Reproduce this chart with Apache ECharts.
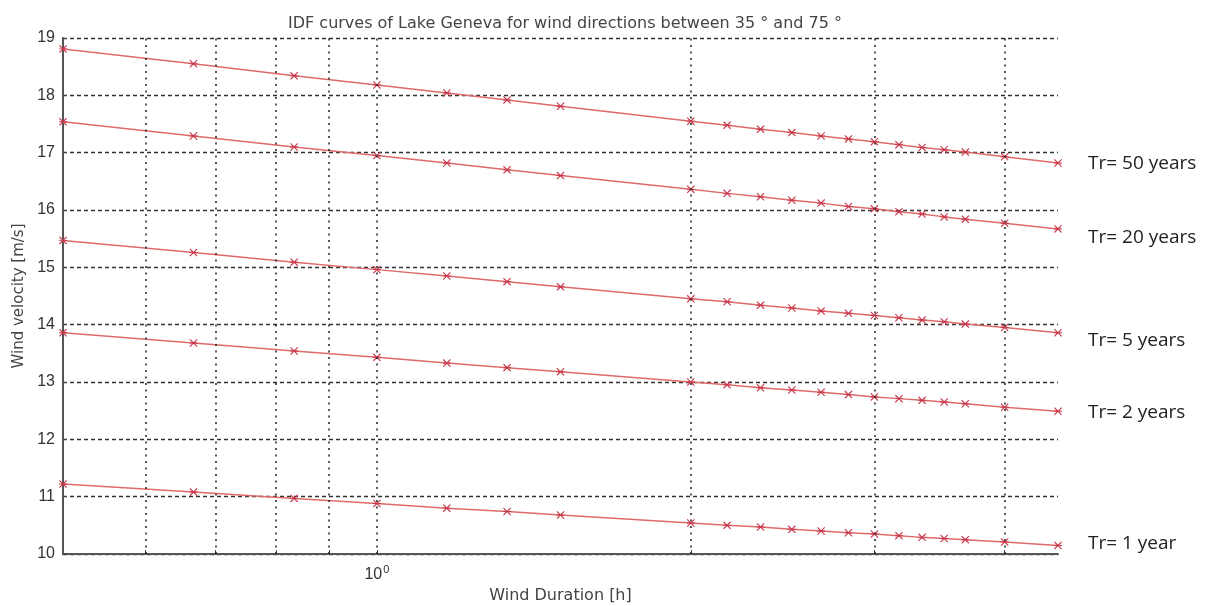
<!DOCTYPE html>
<html>
<head>
<meta charset="utf-8">
<script src="https://cdn.jsdelivr.net/npm/echarts@6/dist/echarts.min.js"></script>
<style>
  html, body { margin: 0; padding: 0; background: #fff; }
  #chart { width: 1208px; height: 606px; }
</style>
</head>
<body>
<div id="chart"></div>
<script>
// wind duration [h]
const durations = [0.5, 0.667, 0.833, 1, 1.167, 1.333, 1.5, 2, 2.167, 2.333, 2.5, 2.667, 2.833, 3, 3.167, 3.333, 3.5, 3.667, 4, 4.5]

// wind velocity [m/s] per return period
const tr50 = [18.81, 18.55, 18.34, 18.18, 18.04, 17.92, 17.81, 17.55, 17.48, 17.41, 17.35, 17.29, 17.24, 17.19, 17.14, 17.09, 17.05, 17.01, 16.93, 16.82]
const tr20 = [17.54, 17.29, 17.10, 16.95, 16.82, 16.70, 16.60, 16.36, 16.29, 16.23, 16.17, 16.12, 16.06, 16.02, 15.97, 15.93, 15.88, 15.84, 15.77, 15.67]
const tr5 = [15.47, 15.26, 15.09, 14.96, 14.85, 14.75, 14.66, 14.45, 14.40, 14.34, 14.29, 14.24, 14.20, 14.16, 14.12, 14.08, 14.05, 14.01, 13.95, 13.86]
const tr2 = [13.86, 13.68, 13.54, 13.43, 13.33, 13.25, 13.18, 13.00, 12.95, 12.90, 12.86, 12.82, 12.78, 12.74, 12.71, 12.68, 12.65, 12.62, 12.56, 12.49]
const tr1 = [11.22, 11.08, 10.97, 10.88, 10.80, 10.74, 10.68, 10.54, 10.50, 10.47, 10.43, 10.40, 10.37, 10.35, 10.32, 10.29, 10.27, 10.25, 10.21, 10.15]

const seriesNames = ['Tr= 50 years', 'Tr= 20 years', 'Tr= 5 years', 'Tr= 2 years', 'Tr= 1 year']
const seriesValues = [tr50, tr20, tr5, tr2, tr1]
const labelShift = [1, 9, 8, 1, -2]

// log grid positions on the duration axis
const xGrid = [0.6, 0.7, 0.8, 0.9, 1, 2, 3, 4]
const xLabels = [1]

const chart = echarts.init(document.getElementById('chart'))

const crossMark = 'path://M0,1 L1,0 L5,4 L9,0 L10,1 L6,5 L10,9 L9,10 L5,6 L1,10 L0,9 L4,5 Z M0,4.4 L10,4.4 L10,5.6 L0,5.6 Z'

const series = seriesNames.map((name, i) => ({
  name: name,
  type: 'line',
  data: durations.map((d, j) => [d, seriesValues[i][j]]),
  symbol: crossMark,
  symbolSize: 8,
  showAllSymbol: true,
  lineStyle: { color: '#e06a6a', width: 1.5 },
  itemStyle: { color: '#c8384a' },
  endLabel: {
    show: true,
    formatter: name,
    distance: 30,
    offset: [0, labelShift[i]],
    color: '#222',
    fontFamily: 'Open Sans',
    fontSize: 19
  },
  animation: false,
  z: 3
}))

// vertical dotted grid drawn through the log axis
series.push({
  type: 'line',
  data: [],
  silent: true,
  markLine: {
    silent: true,
    symbol: ['none', 'none'],
    label: { show: false },
    lineStyle: { color: '#222', type: [2, 4.5], width: 1.5 },
    data: xGrid.map(v => ({ xAxis: v }))
  },
  z: 1
})

const option = {
  backgroundColor: '#fff',
  animation: false,
  title: {
    text: 'IDF curves of Lake Geneva for wind directions between 35 ° and 75 °',
    left: 560,
    textAlign: 'center',
    top: 11,
    textStyle: {
      fontFamily: 'DejaVu Sans',
      fontWeight: 'normal',
      fontSize: 16,
      color: '#444'
    }
  },
  grid: {
    left: 63,
    right: 150,
    top: 38,
    bottom: 52,
    outerBoundsMode: 'none'
  },
  xAxis: {
    type: 'log',
    logBase: 10,
    min: 0.5,
    max: 4.5,
    name: 'Wind Duration [h]',
    nameLocation: 'middle',
    nameGap: 33,
    nameTextStyle: { fontFamily: 'DejaVu Sans', fontSize: 16, color: '#444' },
    axisLine: { lineStyle: { color: '#555', width: 2 } },
    axisTick: { show: true, inside: true, length: 4, customValues: xGrid, lineStyle: { color: '#444' } },
    axisLabel: {
      customValues: xLabels,
      margin: 10,
      formatter: () => '{b|10}{s|0}',
      rich: {
        b: { fontFamily: 'Liberation Sans', fontSize: 16, color: '#333' },
        s: { fontFamily: 'Liberation Sans', fontSize: 11, color: '#333', padding: [0, 0, 10, 1] }
      }
    },
    splitLine: { show: false }
  },
  yAxis: {
    type: 'value',
    min: 10,
    max: 19,
    interval: 1,
    name: 'Wind velocity [m/s]',
    nameLocation: 'middle',
    nameGap: 31,
    nameTextStyle: { fontFamily: 'DejaVu Sans', fontSize: 15, color: '#444' },
    axisLine: { show: true, lineStyle: { color: '#555', width: 2 } },
    axisTick: { show: true, inside: true, length: 4, lineStyle: { color: '#444' } },
    axisLabel: { fontFamily: 'Liberation Sans', fontSize: 16, color: '#333', margin: 8 },
    splitLine: { show: true, lineStyle: { color: '#333', type: [4, 3], width: 1.3 } }
  },
  series: series
}

chart.setOption(option)
</script>
</body>
</html>
